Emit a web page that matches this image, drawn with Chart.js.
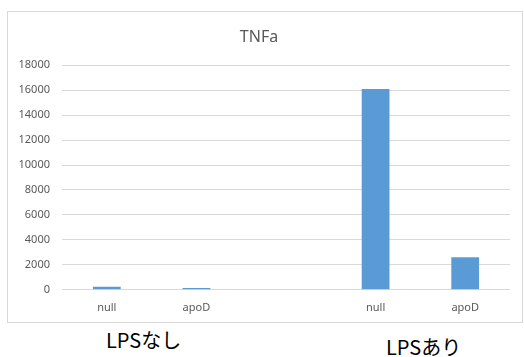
<!DOCTYPE html>
<html>
<head>
<meta charset="utf-8">
<script src="https://cdn.jsdelivr.net/npm/chart.js@4"></script>
<style>
  body { margin: 0; background: #fff; width: 524px; height: 357px; position: relative; overflow: hidden; }
  #box { position: absolute; left: 7px; top: 11px; width: 514px; height: 310px; border: 1px solid #d9d9d9; }
  .grp { position: absolute; font-family: "Noto Sans CJK JP", sans-serif; font-size: 20px; line-height: 20px; color: #000; white-space: nowrap; }
</style>
</head>
<body>
<div id="box"><canvas id="tnf" width="514" height="310"></canvas></div>
<div class="grp" style="left:106px; top:330px;">LPSなし</div>
<div class="grp" style="left:386px; top:337px;">LPSあり</div>
<script>
const categories = ["null", "apoD", "", "null", "apoD"];
const tnfValues = [250, 150, null, 16100, 2600];
const yTicks = [0, 2000, 4000, 6000, 8000, 10000, 12000, 14000, 16000, 18000];

const ctx = document.getElementById("tnf").getContext("2d");
new Chart(ctx, {
  type: "bar",
  data: {
    labels: categories,
    datasets: [
      {
        label: "TNFa",
        data: tnfValues,
        backgroundColor: "#5b9bd5",
        categoryPercentage: 1,
        barPercentage: 0.31,
      },
    ],
  },
  options: {
    responsive: false,
    animation: false,
    layout: { padding: { top: 10, right: 12, bottom: -3, left: 0 } },
    plugins: {
      legend: { display: false },
      tooltip: { enabled: false },
      title: {
        display: true,
        text: "TNFa",
        color: "#595959",
        font: { family: "Noto Sans", size: 16, weight: "normal" },
        padding: { top: 6, bottom: 18 },
      },
    },
    scales: {
      x: {
        grid: { display: false, drawTicks: false },
        border: { display: false },
        ticks: { color: "#595959", font: { family: "Noto Sans", size: 11 }, padding: 11 },
      },
      y: {
        min: 0,
        max: yTicks[yTicks.length - 1],
        afterBuildTicks: (scale) => {
          scale.ticks = yTicks.map((v) => ({ value: v }));
        },
        afterFit: (scale) => {
          scale.width = 54;
        },
        grid: { color: "#d9d9d9", drawTicks: false },
        border: { display: false },
        ticks: {
          color: "#595959",
          font: { family: "Noto Sans", size: 11 },
          padding: 12,
          callback: (v) => String(v),
        },
      },
    },
  },
});
</script>
</body>
</html>
